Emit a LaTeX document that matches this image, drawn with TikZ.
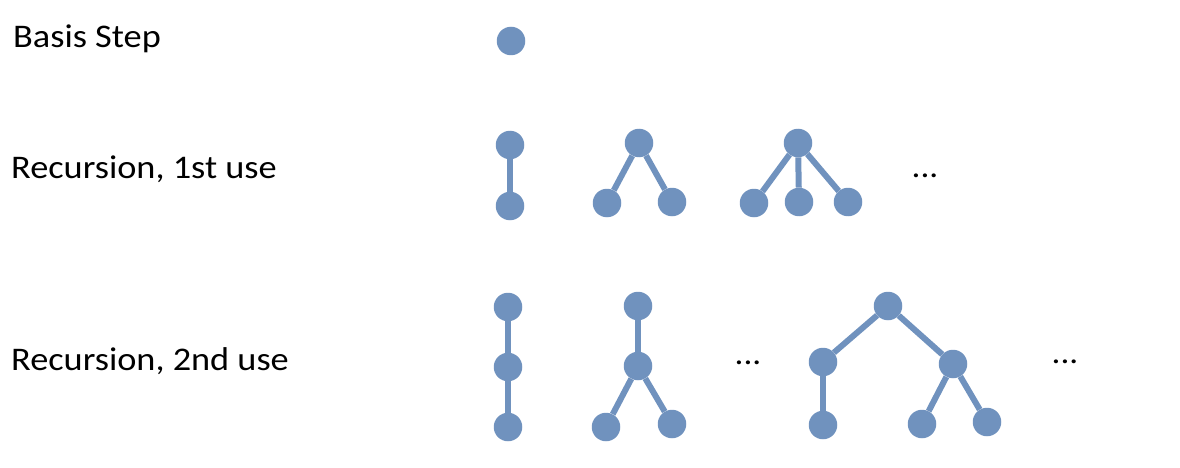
\documentclass[tikz,border=0pt]{standalone}
\usepackage{fontspec}
\setmainfont{Carlito}[FakeStretch=1.1]
\definecolor{nodeblue}{RGB}{112,146,190}
\begin{document}
\begin{tikzpicture}[x=1pt,y=-1pt,
  vert/.style={circle,fill=nodeblue,draw=none,minimum size=28.5pt,inner sep=0pt},
  edge/.style={draw=nodeblue,line width=6pt},
  lbl/.style={anchor=base west,inner sep=0pt,font=\fontsize{33}{40}\selectfont},
  dots/.style={anchor=base,inner sep=0pt,font=\fontsize{32}{38}\selectfont}]
\useasboundingbox (0,0) rectangle (1180,468);
% labels
\node[lbl] (l1) at (13,48) {Basis Step};
\node[lbl] (l2) at (11,178) {Recursion, 1st use};
\node[lbl] (l3) at (11,370) {Recursion, 2nd use};
% basis
\node[vert] (b) at (511,41) {};
% row 2
\node[vert] (a1) at (510,145) {};
\node[vert] (a2) at (510,206) {};
\node[vert] (c1) at (639,143) {};
\node[vert] (c2) at (607,203) {};
\node[vert] (c3) at (672,202) {};
\node[vert] (d1) at (798,143) {};
\node[vert] (d2) at (754,203) {};
\node[vert] (d3) at (799,202) {};
\node[vert] (d4) at (848,202) {};
\node[dots] (e1) at (925,177) {...};
% row 3
\node[vert] (f1) at (508,307) {};
\node[vert] (f2) at (508,367) {};
\node[vert] (f3) at (508,427) {};
\node[vert] (g1) at (638,306) {};
\node[vert] (g2) at (638,366) {};
\node[vert] (g3) at (606,427) {};
\node[vert] (g4) at (672,424) {};
\node[dots] (e2) at (748,364) {...};
\node[vert] (h1) at (888,306) {};
\node[vert] (h2) at (823,362) {};
\node[vert] (h3) at (953,364) {};
\node[vert] (h4) at (823,425) {};
\node[vert] (h5) at (922,424) {};
\node[vert] (h6) at (987,422) {};
\node[dots] (e3) at (1065,363) {...};
% edges
\draw[edge] (a1) -- (a2);
\draw[edge] (c1) -- (c2);
\draw[edge] (c1) -- (c3);
\draw[edge] (d1) -- (d2);
\draw[edge] (d1) -- (d3);
\draw[edge] (d1) -- (d4);
\draw[edge] (f1) -- (f2);
\draw[edge] (f2) -- (f3);
\draw[edge] (g1) -- (g2);
\draw[edge] (g2) -- (g3);
\draw[edge] (g2) -- (g4);
\draw[edge] (h1) -- (h2);
\draw[edge] (h1) -- (h3);
\draw[edge] (h2) -- (h4);
\draw[edge] (h3) -- (h5);
\draw[edge] (h3) -- (h6);
\end{tikzpicture}
\end{document}
